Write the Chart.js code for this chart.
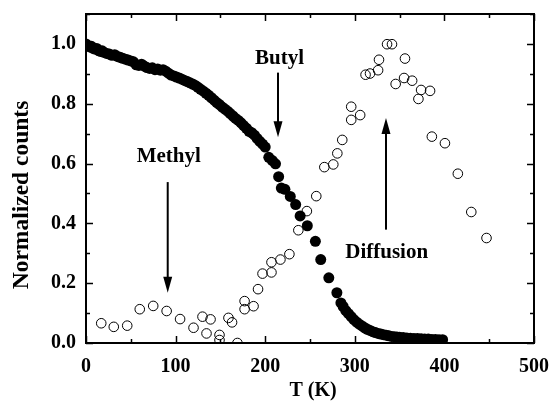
<!DOCTYPE html>
<html>
<head>
<meta charset="utf-8">
<script src="https://cdn.jsdelivr.net/npm/chart.js@4/dist/chart.umd.min.js"></script>
<style>
  html, body { margin: 0; padding: 0; background: #fff; }
  #wrap { width: 553px; height: 406px; }
</style>
</head>
<body>
<div id="wrap"><canvas id="chart" width="553" height="406"></canvas></div>
<script>
// Butyl (filled circles)
const butylT = [0, 2, 4, 6, 8, 10, 12, 14, 16, 18, 20, 23, 26, 29, 32, 35, 38, 41, 44, 47,
  50, 53, 56, 59, 62, 65, 68, 71, 74, 77, 80, 83, 86, 89, 92, 95, 98, 101, 104, 107,
  110, 113, 116, 119, 122, 125, 128, 131, 134, 137, 140, 143, 146, 149, 152, 155, 158, 161, 164, 167,
  170, 173, 176, 179, 182, 185, 188, 191, 194, 197, 200, 204, 208, 211.5, 215, 218, 222, 228, 234, 239,
  247, 256, 262, 271, 280, 284.5, 287, 290, 293, 296, 299, 302, 305, 308, 311, 314, 317, 320, 323, 326,
  329, 332, 335, 338, 341, 344, 347, 350, 354, 358, 362, 366, 370, 374, 378, 382, 386, 390, 394, 398];
const butylCounts = [1.00, 0.995, 0.99, 0.992, 0.985, 0.983, 0.985, 0.978, 0.975, 0.977, 0.972, 0.968, 0.966, 0.962, 0.964, 0.958, 0.955, 0.952, 0.949, 0.946,
  0.943, 0.94, 0.93, 0.928, 0.932, 0.926, 0.921, 0.918, 0.92, 0.914, 0.916, 0.912, 0.914, 0.909, 0.902, 0.896, 0.893, 0.889, 0.886, 0.882,
  0.878, 0.874, 0.87, 0.866, 0.861, 0.855, 0.848, 0.842, 0.835, 0.828, 0.82, 0.812, 0.804, 0.797, 0.789, 0.782, 0.775, 0.767, 0.759, 0.751,
  0.744, 0.736, 0.727, 0.718, 0.708, 0.703, 0.695, 0.684, 0.674, 0.665, 0.655, 0.621, 0.61, 0.599, 0.556, 0.518, 0.514, 0.49, 0.463, 0.425,
  0.392, 0.34, 0.279, 0.218, 0.168, 0.134, 0.122, 0.108, 0.098, 0.088, 0.078, 0.07, 0.063, 0.057, 0.051, 0.046, 0.042, 0.038, 0.035, 0.032,
  0.03, 0.028, 0.026, 0.024, 0.022, 0.021, 0.02, 0.019, 0.018, 0.017, 0.016, 0.015, 0.015, 0.014, 0.013, 0.013, 0.012, 0.012, 0.011, 0.011];

// Methyl + diffusion (open circles)
const openT = [17, 31, 46, 60, 75, 90, 105, 120, 130, 134.5, 139, 149, 149, 159, 163, 169, 177, 177, 187, 192,
  197, 207, 207, 217, 227, 237, 246.5, 257, 266, 276, 280.5, 286, 296, 296, 306, 312, 317, 326, 327, 336,
  341.5, 345.6, 355, 356, 364, 371, 374, 384, 386, 400.6, 415, 430, 447];
const openCounts = [0.066, 0.054, 0.058, 0.113, 0.124, 0.107, 0.08, 0.051, 0.088, 0.032, 0.079, 0.027, 0.01, 0.084, 0.069, 0.0, 0.14, 0.113, 0.123, 0.18,
  0.232, 0.236, 0.27, 0.279, 0.297, 0.377, 0.441, 0.491, 0.588, 0.597, 0.634, 0.679, 0.746, 0.79, 0.762, 0.897, 0.901, 0.912, 0.947, 0.999,
  0.999, 0.866, 0.886, 0.951, 0.877, 0.816, 0.846, 0.843, 0.69, 0.668, 0.566, 0.438, 0.351];

const xTicks = [0, 100, 200, 300, 400, 500];
const yTicks = [0.0, 0.2, 0.4, 0.6, 0.8, 1.0];

const FONT = '"Liberation Serif", "Times New Roman", serif';

// frame, inward ticks, titles and arrows
const decorPlugin = {
  id: 'decor',
  afterDraw(chart) {
    const { ctx, chartArea: a, scales: { x, y } } = chart;
    ctx.save();
    ctx.strokeStyle = '#000';
    ctx.fillStyle = '#000';
    ctx.lineWidth = 2;
    ctx.strokeRect(a.left, a.top, a.right - a.left, a.bottom - a.top);

    ctx.lineWidth = 1.5;
    ctx.beginPath();
    for (let v = 0; v <= 500; v += 50) {
      const px = Math.round(x.getPixelForValue(v)) + 0.5;
      const len = v % 100 === 0 ? 7 : 4;
      ctx.moveTo(px, a.bottom); ctx.lineTo(px, a.bottom - len);
      ctx.moveTo(px, a.top); ctx.lineTo(px, a.top + len);
    }
    for (let i = 0; i <= 11; i++) {
      const py = Math.round(y.getPixelForValue(i / 10)) + 0.5;
      const len = i % 2 === 0 ? 7 : 4;
      ctx.moveTo(a.left, py); ctx.lineTo(a.left + len, py);
      ctx.moveTo(a.right, py); ctx.lineTo(a.right - len, py);
    }
    ctx.stroke();

    // axis titles
    ctx.font = 'bold 20px ' + FONT;
    ctx.textAlign = 'center';
    ctx.textBaseline = 'middle';
    ctx.fillText('T (K)', 313, 391);
    ctx.save();
    ctx.translate(22, 195);
    ctx.rotate(-Math.PI / 2);
    ctx.font = 'bold 23.5px ' + FONT;
    ctx.fillText('Normalized counts', 0, 0);
    ctx.restore();

    // annotations
    const arrow = (xv, y0, y1) => {
      const px = x.getPixelForValue(xv);
      const p0 = y.getPixelForValue(y0);
      const p1 = y.getPixelForValue(y1);
      const dir = p1 > p0 ? 1 : -1;
      ctx.lineWidth = 2;
      ctx.beginPath();
      ctx.moveTo(px, p0);
      ctx.lineTo(px, p1 - dir * 14);
      ctx.stroke();
      ctx.beginPath();
      ctx.moveTo(px, p1);
      ctx.lineTo(px - 4.5, p1 - dir * 16);
      ctx.lineTo(px + 4.5, p1 - dir * 16);
      ctx.closePath();
      ctx.fill();
    };
    ctx.font = 'bold 21px ' + FONT;
    ctx.fillText('Butyl', x.getPixelForValue(216), y.getPixelForValue(0.95));
    ctx.fillText('Methyl', x.getPixelForValue(92.3), y.getPixelForValue(0.623));
    ctx.fillText('Diffusion', x.getPixelForValue(335.6), y.getPixelForValue(0.301));
    arrow(214.3, 0.904, 0.688);
    arrow(91.2, 0.538, 0.168);
    arrow(334.8, 0.379, 0.752);
    ctx.restore();
  }
};

new Chart(document.getElementById('chart'), {
  type: 'scatter',
  data: {
    datasets: [
      {
        label: 'open',
        data: openT.map((t, i) => ({ x: t, y: openCounts[i] })),
        pointRadius: 4.8,
        pointBackgroundColor: 'rgba(0,0,0,0)',
        pointBorderColor: '#000',
        pointBorderWidth: 1,
        order: 0
      },
      {
        label: 'butyl',
        data: butylT.map((t, i) => ({ x: t, y: butylCounts[i] })),
        pointRadius: 5.5,
        pointBackgroundColor: '#000',
        pointBorderColor: '#000',
        pointBorderWidth: 0,
        order: 1
      }
    ]
  },
  options: {
    responsive: false,
    animation: false,
    events: [],
    layout: { padding: { top: 6, right: 7, left: 0, bottom: 0 } },
    plugins: { legend: { display: false }, tooltip: { enabled: false } },
    scales: {
      x: {
        type: 'linear',
        min: 0, max: 500,
        grid: { display: false },
        border: { display: false },
        afterFit: s => { s.height = 63; },
        afterBuildTicks: s => { s.ticks = xTicks.map(v => ({ value: v })); },
        ticks: {
          padding: 4,
          color: '#000',
          font: { family: FONT, size: 20, weight: 'bold' },
          callback: v => String(v)
        }
      },
      y: {
        type: 'linear',
        min: 0, max: 1.1,
        grid: { display: false },
        border: { display: false },
        afterFit: s => { s.width = 86; },
        afterBuildTicks: s => { s.ticks = yTicks.map(v => ({ value: v })); },
        ticks: {
          padding: 2,
          color: '#000',
          font: { family: FONT, size: 20, weight: 'bold' },
          callback: v => Number(v).toFixed(1)
        }
      }
    }
  },
  plugins: [decorPlugin]
});
</script>
</body>
</html>
